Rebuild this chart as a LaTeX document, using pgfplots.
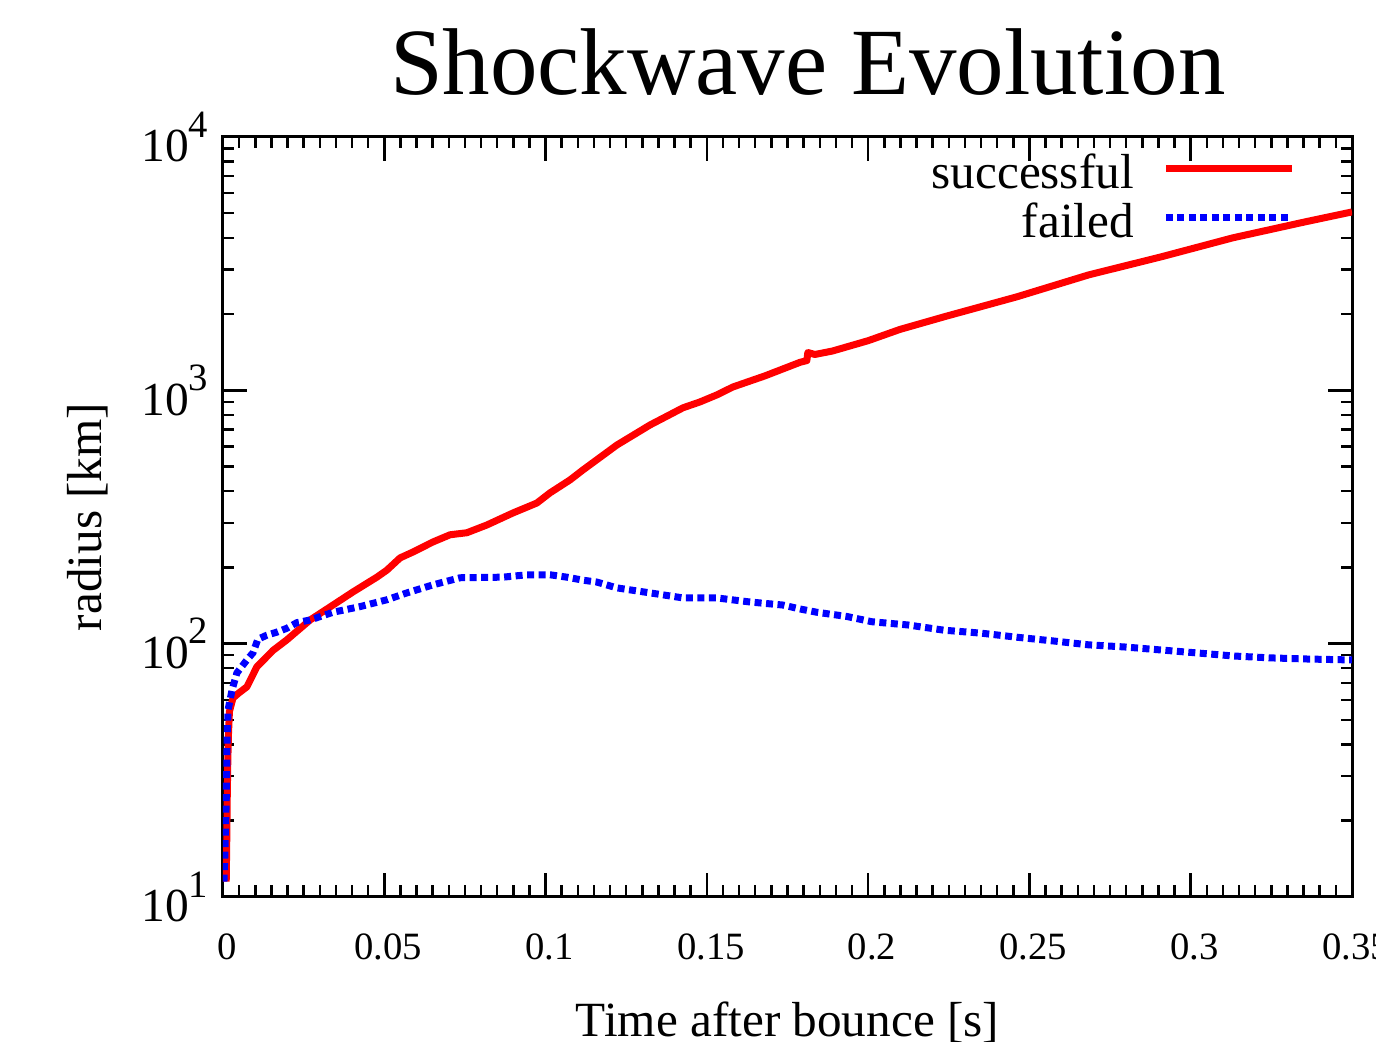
\documentclass[border=0pt]{standalone}
\usepackage{fontspec}
\setmainfont{Liberation Serif}
\usepackage{pgfplots}
\pgfplotsset{compat=1.18}

% power-of-ten tick labels set in the text font
\newcommand{\pw}[1]{{\fontsize{13.5}{13.5}\selectfont 10\raisebox{0.52em}{\fontsize{11}{11}\selectfont #1}}}
\newcommand{\xt}[1]{{\fontsize{11}{11}\selectfont #1}}

\begin{document}
\begin{tikzpicture}
\begin{axis}[
  scale only axis,
  width=112.9mm, height=76mm,
  xmin=0, xmax=0.35,
  ymode=log, ymin=10, ymax=10000,
  axis line style={line width=0.3mm},
  every tick/.style={black, line width=0.25mm},
  major tick length=2.4mm,
  minor tick length=1.15mm,
  tick align=inside,
  xtick={0,0.05,0.1,0.15,0.2,0.25,0.3,0.35},
  xticklabels={\xt{0},\xt{0.05},\xt{0.1},\xt{0.15},\xt{0.2},\xt{0.25},\xt{0.3},\xt{0.35}},
  minor x tick num=9,
  ytick={10,100,1000,10000},
  yticklabels={\pw{1},\pw{2},\pw{3},\pw{4}},
  every x tick label/.append style={inner sep=0pt, anchor=north, yshift=-3.6mm, xshift=0.4mm},
  every y tick label/.append style={inner sep=0pt, anchor=east, xshift=-1.4mm},
  title={Shockwave Evolution},
  title style={font=\fontsize{27}{30}\selectfont, at={(axis description cs:0.518,1.0276)}, anchor=base},
  xlabel={Time after bounce [s]},
  xlabel style={font=\fontsize{14}{14}\selectfont, at={(axis description cs:0.5,-0.184)}, anchor=base},
  ylabel={radius [km]},
  ylabel style={font=\fontsize{14}{14}\selectfont, at={(axis description cs:-0.1072,0.5)}, anchor=base},
  legend style={at={(axis description cs:1,1)}, anchor=north east, xshift=-5.6mm, yshift=-1.7mm,
    draw=none, fill=none, inner sep=0pt, font=\fontsize{14}{14}\selectfont,
    nodes={inner sep=0pt, text height=3.4mm, text depth=1.5mm}},
  legend plot pos=right,
  legend cell align=right,
  legend image code/.code={\path[draw=none] (0mm,1.1mm) -- (15.8mm,1.1mm);
    \draw[#1] (3.2mm,1.1mm) -- (15.8mm,1.1mm);},
]

% successful explosion
\addplot[red, line width=0.7mm, line join=round] table {
0.0010 11.5
0.0012 18
0.0013 24
0.0015 35
0.0017 44
0.0020 54
0.0031 61
0.0050 64
0.0074 67.5
0.0105 81
0.0155 94
0.0198 103.5
0.0270 124
0.0332 139.6
0.0403 160
0.0477 183
0.0508 195
0.0549 218
0.0589 230
0.0651 252
0.0704 269
0.0756 274
0.0818 294
0.0899 328
0.0973 359
0.1014 394
0.1076 443
0.1116 485
0.1221 608
0.1324 730
0.1426 853
0.1479 900
0.1531 959
0.1581 1031
0.1680 1140
0.1789 1290
0.1810 1310
0.1813 1410
0.1835 1385
0.1890 1430
0.2000 1570
0.2099 1740
0.2235 1950
0.2461 2339
0.2684 2856
0.2908 3363
0.3131 4000
0.3354 4621
0.3500 5060
};
\addlegendentry{successful}

% failed explosion
\addplot[blue, line width=0.7mm, dash pattern=on 0.7mm off 0.45mm] table {
0.0003 11.5
0.0006 15
0.0010 24
0.0012 35
0.0013 44
0.0016 55
0.0028 65.6
0.0043 76.6
0.0074 86.2
0.0093 92
0.0108 104
0.0136 108
0.0167 111
0.0198 115
0.0229 121
0.0270 124
0.0341 133
0.0425 140
0.0508 149
0.0570 158.6
0.0651 170.6
0.0735 182
0.0868 183
0.0942 187
0.1014 187
0.1066 183
0.1116 178
0.1159 175
0.1221 166
0.1324 158.6
0.1426 151.5
0.1531 151.5
0.1634 146
0.1736 142
0.1789 137
0.1841 133
0.1934 128
0.2012 122
0.2123 118.5
0.2235 113
0.2350 110
0.2461 106
0.2573 102.5
0.2684 98.9
0.2796 97
0.2908 94.4
0.3019 91.9
0.3131 89.4
0.3242 87.9
0.3354 87
0.3500 86.2
};
\addlegendentry{failed}

\coordinate (bbll) at (rel axis cs:-0.19752,-0.19079);
\coordinate (bbur) at (rel axis cs:1.02126,1.18026);
\end{axis}
\pgfresetboundingbox
\useasboundingbox (bbll) rectangle (bbur);
\end{tikzpicture}
\end{document}
